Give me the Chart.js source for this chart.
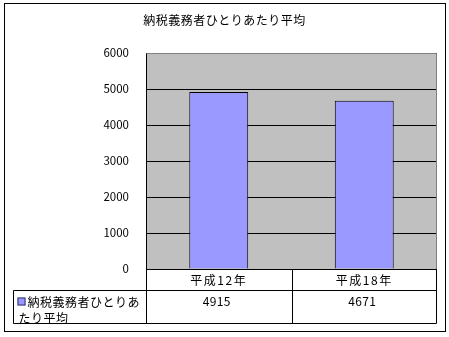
<!DOCTYPE html>
<html><head><meta charset="utf-8">
<script src="https://cdn.jsdelivr.net/npm/chart.js@4/dist/chart.umd.min.js"></script>
<style>html,body{margin:0;padding:0;background:#fff}#wrap{width:449px;height:337px}</style>
</head><body><div id="wrap"><canvas id="c" width="449" height="337"></canvas></div>
<script>
const titleText = '納税義務者ひとりあたり平均';
const categories = ['平成12年', '平成18年'];
const seriesName = '納税義務者ひとりあたり平均';
const values = [4915, 4671];
const yMin = 0, yMax = 6000, yStep = 1000;

const FONT = '"Noto Sans CJK JP", "Noto Sans", sans-serif';
const BAR_COLOR = '#9999FF';

function withSpacing(obj, method, spacing) {
  if (!obj || obj['_sp_' + method]) return;
  const orig = obj[method].bind(obj);
  obj[method] = function (...args) {
    const c = this.ctx || obj.ctx;
    const prev = c.letterSpacing;
    c.letterSpacing = spacing;
    const r = orig(...args);
    c.letterSpacing = prev;
    return r;
  };
  obj['_sp_' + method] = true;
}

const spacingPlugin = {
  id: 'spacing',
  afterLayout(chart) {
    withSpacing(chart.scales.x, 'drawLabels', '1.5px');
    withSpacing(chart.titleBlock, 'draw', '0.5px');
  }
};

const plotBg = {
  id: 'plotBg',
  beforeDraw(chart) {
    const {ctx, chartArea: a} = chart;
    ctx.save();
    ctx.fillStyle = '#C0C0C0';
    ctx.fillRect(a.left, a.top, a.right - a.left, a.bottom - a.top);
    ctx.restore();
  },
  beforeDatasetsDraw(chart) {
    const {ctx, chartArea: a} = chart;
    ctx.save();
    ctx.strokeStyle = '#808080';
    ctx.lineWidth = 1;
    ctx.beginPath();
    ctx.moveTo(a.left + 0.5, a.top + 0.5);
    ctx.lineTo(Math.round(a.right) - 0.5, a.top + 0.5);
    ctx.lineTo(Math.round(a.right) - 0.5, a.bottom);
    ctx.stroke();
    ctx.restore();
  }
};

const dataTable = {
  id: 'dataTable',
  afterDraw(chart) {
    const {ctx, chartArea: a} = chart;
    const xs = chart.scales.x;
    const rowTop = Math.round(a.bottom) + 0.5;
    const hdrBot = Math.round(xs.bottom) + 0.5;
    const rowH = 33;
    const tblBot = hdrBot + rowH;
    const tblLeft = 13.5;
    const L = Math.round(a.left) + 0.5, R = Math.round(a.right) - 0.5;
    const bounds = [L];
    for (let i = 0; i < categories.length - 1; i++) {
      bounds.push(Math.round((xs.getPixelForValue(i) + xs.getPixelForValue(i + 1)) / 2) + 0.5);
    }
    bounds.push(R);
    ctx.save();
    ctx.strokeStyle = '#000';
    ctx.lineWidth = 1;
    ctx.beginPath();
    ctx.moveTo(L, rowTop); ctx.lineTo(R, rowTop);
    ctx.moveTo(tblLeft, hdrBot); ctx.lineTo(R, hdrBot);
    ctx.moveTo(tblLeft, tblBot); ctx.lineTo(R, tblBot);
    ctx.moveTo(tblLeft, hdrBot); ctx.lineTo(tblLeft, tblBot);
    bounds.forEach(b => { ctx.moveTo(b, rowTop); ctx.lineTo(b, tblBot); });
    ctx.stroke();

    // values
    ctx.fillStyle = '#000';
    ctx.font = '12px ' + FONT;
    ctx.textAlign = 'center';
    ctx.textBaseline = 'middle';
    ctx.letterSpacing = '0.3px';
    values.forEach((v, i) => {
      ctx.fillText(String(v), xs.getPixelForValue(i) - 2, hdrBot + 11);
    });

    // row header: legend key + wrapped name
    const keyX = tblLeft + 4, keyY = hdrBot + 7;
    ctx.fillStyle = BAR_COLOR;
    ctx.fillRect(keyX, keyY, 8, 8);
    ctx.strokeStyle = '#333366';
    ctx.strokeRect(keyX + 0.5, keyY + 0.5, 7, 7);
    ctx.fillStyle = '#000';
    ctx.textAlign = 'left';
    ctx.letterSpacing = '0.5px';
    const firstX = keyX + 10, maxW = L - firstX - 3;
    let line = '', lines = [];
    for (const ch of seriesName) {
      const w = lines.length === 0 ? maxW : (L - keyX - 3);
      if (ctx.measureText(line + ch).width > w) { lines.push(line); line = ch; }
      else line += ch;
    }
    if (line) lines.push(line);
    lines.forEach((t, i) => {
      ctx.fillText(t, i === 0 ? firstX : keyX + 1, hdrBot + 12 + i * 16);
    });
    ctx.letterSpacing = '0px';

    // outer border
    ctx.strokeStyle = '#000';
    ctx.strokeRect(4.5, 3.5, 441, 328);
    ctx.restore();
  }
};

new Chart(document.getElementById('c'), {
  type: 'bar',
  data: {
    labels: categories,
    datasets: [{
      label: seriesName,
      data: values,
      backgroundColor: BAR_COLOR,
      borderColor: '#000',
      borderWidth: 1,
      barPercentage: 0.405,
      categoryPercentage: 1
    }]
  },
  options: {
    responsive: false,
    animation: false,
    devicePixelRatio: 1,
    layout: { padding: { left: 12, right: 12, top: 0, bottom: 47 } },
    plugins: {
      legend: { display: false },
      tooltip: { enabled: false },
      title: {
        display: true,
        text: titleText,
        color: '#000',
        font: { family: FONT, size: 12, weight: 'normal', lineHeight: 1.2 },
        padding: { top: 13, bottom: 25.6 }
      }
    },
    scales: {
      x: {
        type: 'category',
        grid: { display: false, drawTicks: false },
        border: { display: false },
        ticks: { color: '#000', font: { family: FONT, size: 12 }, padding: 4, maxRotation: 0 },
        afterFit(s) { s.height = 21; }
      },
      y: {
        min: yMin, max: yMax,
        grid: { color: '#000', lineWidth: 1, drawTicks: false },
        border: { display: true, color: '#000', width: 1 },
        ticks: {
          stepSize: yStep, color: '#000', font: { family: FONT, size: 11.5 }, padding: 17,
          callback: v => String(v)
        },
        afterFit(s) { s.width = 134; }
      }
    }
  },
  plugins: [spacingPlugin, plotBg, dataTable]
});
</script>
</body></html>
